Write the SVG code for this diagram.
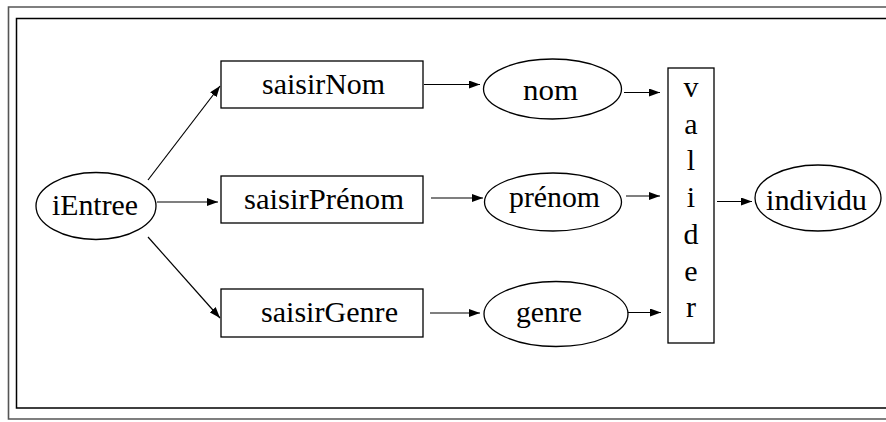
<svg xmlns="http://www.w3.org/2000/svg" width="886" height="422" viewBox="0 0 886 422">
<style>
  .shape { fill: #fff; stroke: #000; stroke-width: 1.3; }
  .lbl { font-family: 'Liberation Serif', 'Times New Roman', serif; font-size: 30px; fill: #000; }
  .conn line { stroke: #000; stroke-width: 1.2; marker-end: url(#arr); }
</style>
<defs>
  <marker id="arr" markerUnits="userSpaceOnUse" markerWidth="11" markerHeight="8" refX="11" refY="4" orient="auto">
    <path d="M0,0 L11,4 L0,8 z" fill="#000"/>
  </marker>
</defs>
<rect x="0" y="0" width="886" height="422" fill="#fff"/>
<g id="frame" fill="none">
  <path d="M890 7 H8.5 V419 H890" stroke="#555" stroke-width="1.6"/>
  <path d="M890 18.5 H16.5 V408 H890" stroke="#000" stroke-width="1.5"/>
</g>
<g class="conn" id="connectors">
  <line x1="148" y1="180" x2="220" y2="86"/>
  <line x1="157" y1="202" x2="218" y2="202"/>
  <line x1="148" y1="237" x2="220" y2="318"/>
  <line x1="424" y1="84.5" x2="480" y2="84.5"/>
  <line x1="431" y1="198" x2="483" y2="198"/>
  <line x1="430" y1="313" x2="480" y2="313"/>
  <line x1="624" y1="92.5" x2="660" y2="92.5"/>
  <line x1="626" y1="196" x2="660" y2="196"/>
  <line x1="627" y1="312.5" x2="661" y2="312.5"/>
  <line x1="717" y1="201.5" x2="752" y2="201.5"/>
</g>
<g id="iEntree">
  <ellipse class="shape" cx="96" cy="206" rx="60" ry="33.5"/>
  <text class="lbl" x="52" y="215" textLength="86" lengthAdjust="spacingAndGlyphs">iEntree</text>
</g>
<g id="saisirNom">
  <rect class="shape" x="221" y="61" width="202" height="47"/>
  <text class="lbl" x="262" y="94" textLength="123" lengthAdjust="spacingAndGlyphs">saisirNom</text>
</g>
<g id="saisirPrenom">
  <rect class="shape" x="221" y="176" width="202" height="47"/>
  <text class="lbl" x="244" y="209" textLength="160" lengthAdjust="spacingAndGlyphs">saisirPrénom</text>
</g>
<g id="saisirGenre">
  <rect class="shape" x="221" y="289" width="202" height="48"/>
  <text class="lbl" x="261" y="322" textLength="137" lengthAdjust="spacingAndGlyphs">saisirGenre</text>
</g>
<g id="nom">
  <ellipse class="shape" cx="552.5" cy="89" rx="69" ry="30"/>
  <text class="lbl" x="523" y="100" textLength="55" lengthAdjust="spacingAndGlyphs">nom</text>
</g>
<g id="prenom">
  <ellipse class="shape" cx="553" cy="202" rx="68.5" ry="29"/>
  <text class="lbl" x="509" y="207" textLength="91" lengthAdjust="spacingAndGlyphs">prénom</text>
</g>
<g id="genre">
  <ellipse class="shape" cx="556" cy="314" rx="72" ry="32.5"/>
  <text class="lbl" x="516" y="322" textLength="66" lengthAdjust="spacingAndGlyphs">genre</text>
</g>
<g id="valider">
  <rect class="shape" x="668" y="68" width="46" height="275"/>
  <g class="lbl" text-anchor="middle">
    <text x="691" y="97">v</text>
    <text x="691" y="133.7">a</text>
    <text x="691" y="170.4">l</text>
    <text x="691" y="207.1">i</text>
    <text x="691" y="243.8">d</text>
    <text x="691" y="280.5">e</text>
    <text x="691" y="317.2">r</text>
  </g>
</g>
<g id="individu">
  <ellipse class="shape" cx="818" cy="198" rx="63" ry="33"/>
  <text class="lbl" x="766" y="210" textLength="101" lengthAdjust="spacingAndGlyphs">individu</text>
</g>
</svg>
